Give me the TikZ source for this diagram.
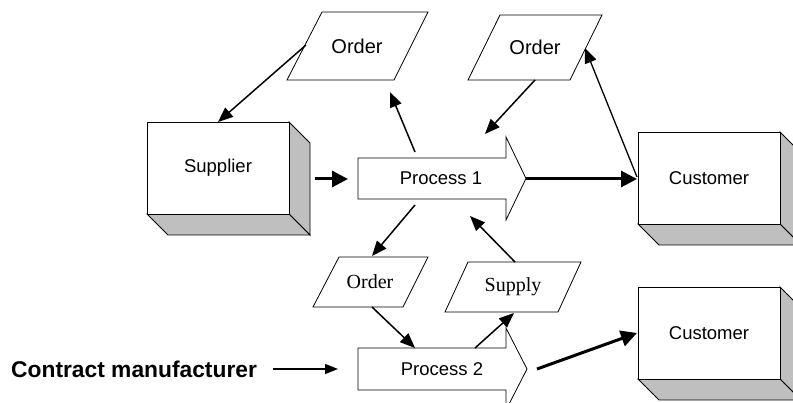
\documentclass[tikz,border=0pt]{standalone}
\usepackage{fontspec}
\setmainfont{Liberation Serif}
\setsansfont{Liberation Sans}
\usetikzlibrary{arrows.meta}
\begin{document}
\begin{tikzpicture}[x=1pt,y=-1pt,
  outl/.style={draw=black,line width=0.8pt,line join=miter},
  face/.style={outl,fill=white},
  shade/.style={outl,fill=black!25},
  lbl/.style={font=\fontsize{18.5}{20}\sffamily,inner sep=0pt},
  lbltop/.style={font=\fontsize{20}{22}\sffamily,inner sep=0pt},
  lblser/.style={font=\fontsize{20}{22}\rmfamily,inner sep=0pt},
  thin/.style={line width=1.5pt,-{Triangle[length=15pt,width=12pt]}},
  thick/.style={line width=3pt,-{Triangle[length=16pt,width=16pt]}},
]
\useasboundingbox (0,0) rectangle (793,403);
% ---- 3D boxes
\newcommand{\boxthree}[4]{% left top right bottom
  \path[shade] (#3,#2) -- ++(21,21) -- (#3+21,#4+21) -- (#3,#4) -- cycle;
  \path[shade] (#1,#4) -- (#3,#4) -- (#3+21,#4+21) -- (#1+21,#4+21) -- cycle;
  \path[face] (#1,#2) rectangle (#3,#4);
}
\boxthree{147}{122}{289}{214}
\boxthree{638}{132}{780}{224}
\boxthree{638}{287}{780}{379}
\node[lbl] (sup) at (218,168) {Supplier};
\node[lbl] (cus1) at (709,178) {Customer};
\node[lbl] (cus2) at (709,333) {Customer};
% ---- process arrows
\path[face] (358,158) -- (506,158) -- (506,137) -- (526,178.5) -- (506,220) -- (506,199) -- (358,199) -- cycle;
\path[face] (358,348) -- (506,348) -- (506,328) -- (527,369) -- (506,410) -- (506,390) -- (358,390) -- cycle;
\node[lbl] (p1) at (441,178.5) {Process 1};
\node[lbl] (p2) at (442,369) {Process 2};
% ---- parallelograms
\path[face] (322,12) -- (428,12) -- (394,80) -- (287,80) -- cycle;
\path[face] (500,15) -- (602,15) -- (570,80) -- (468,80) -- cycle;
\path[face] (339,257) -- (428,257) -- (403,307) -- (313,307) -- cycle;
\path[face] (468,262) -- (581,262) -- (558,312) -- (445,312) -- cycle;
\node[lbltop] (o1) at (357,46) {Order};
\node[lbltop] (o2) at (535,47) {Order};
\node[lblser] (o3) at (370,282) {Order};
\node[lblser] (sp) at (513,287) {Supply};
\node[font=\fontsize{22.8}{24}\sffamily\bfseries,inner sep=0pt,anchor=west] (cm) at (11,369) {Contract manufacturer};
% ---- connector end points
\coordinate (o1-l) at (306,45);
\coordinate (sup-n) at (218,122);
\coordinate (sup-e) at (315,179);
\coordinate (p1-w) at (348,179);
\coordinate (p1-tip) at (526,179);
\coordinate (cus1-w) at (637,179);
\coordinate (p1-nw) at (415,152);
\coordinate (o1-s) at (390,92);
\coordinate (o2-s) at (535,80);
\coordinate (p1-ne) at (485,134);
\coordinate (cus1-wn) at (637,177);
\coordinate (o2-r) at (585,48);
\coordinate (p1-sw) at (415,205);
\coordinate (o3-n) at (372,256);
\coordinate (sp-n) at (515,262);
\coordinate (p1-se) at (470,216);
\coordinate (o3-s) at (372,307);
\coordinate (p2-nw) at (415,348);
\coordinate (p2-ne) at (475,348);
\coordinate (sp-s) at (514,313);
\coordinate (p2-e) at (537,369);
\coordinate (cus2-w) at (637,333);
\coordinate (cm-e) at (273,369);
\coordinate (p2-w) at (338,369);
% ---- connectors
\draw[thin] (o1-l) -- (sup-n);
\draw[thick] (sup-e) -- (p1-w);
\draw[thick] (p1-tip) -- (cus1-w);
\draw[thin] (p1-nw) -- (o1-s);
\draw[thin] (o2-s) -- (p1-ne);
\draw[thin,line width=1.3pt] (cus1-wn) -- (o2-r);
\draw[thin] (p1-sw) -- (o3-n);
\draw[thin] (sp-n) -- (p1-se);
\draw[thin] (o3-s) -- (p2-nw);
\draw[thin] (p2-ne) -- (sp-s);
\draw[thick] (p2-e) -- (cus2-w);
\draw[line width=1.3pt,-{Triangle[length=13pt,width=10pt]}] (cm-e) -- (p2-w);
\end{tikzpicture}
\end{document}
